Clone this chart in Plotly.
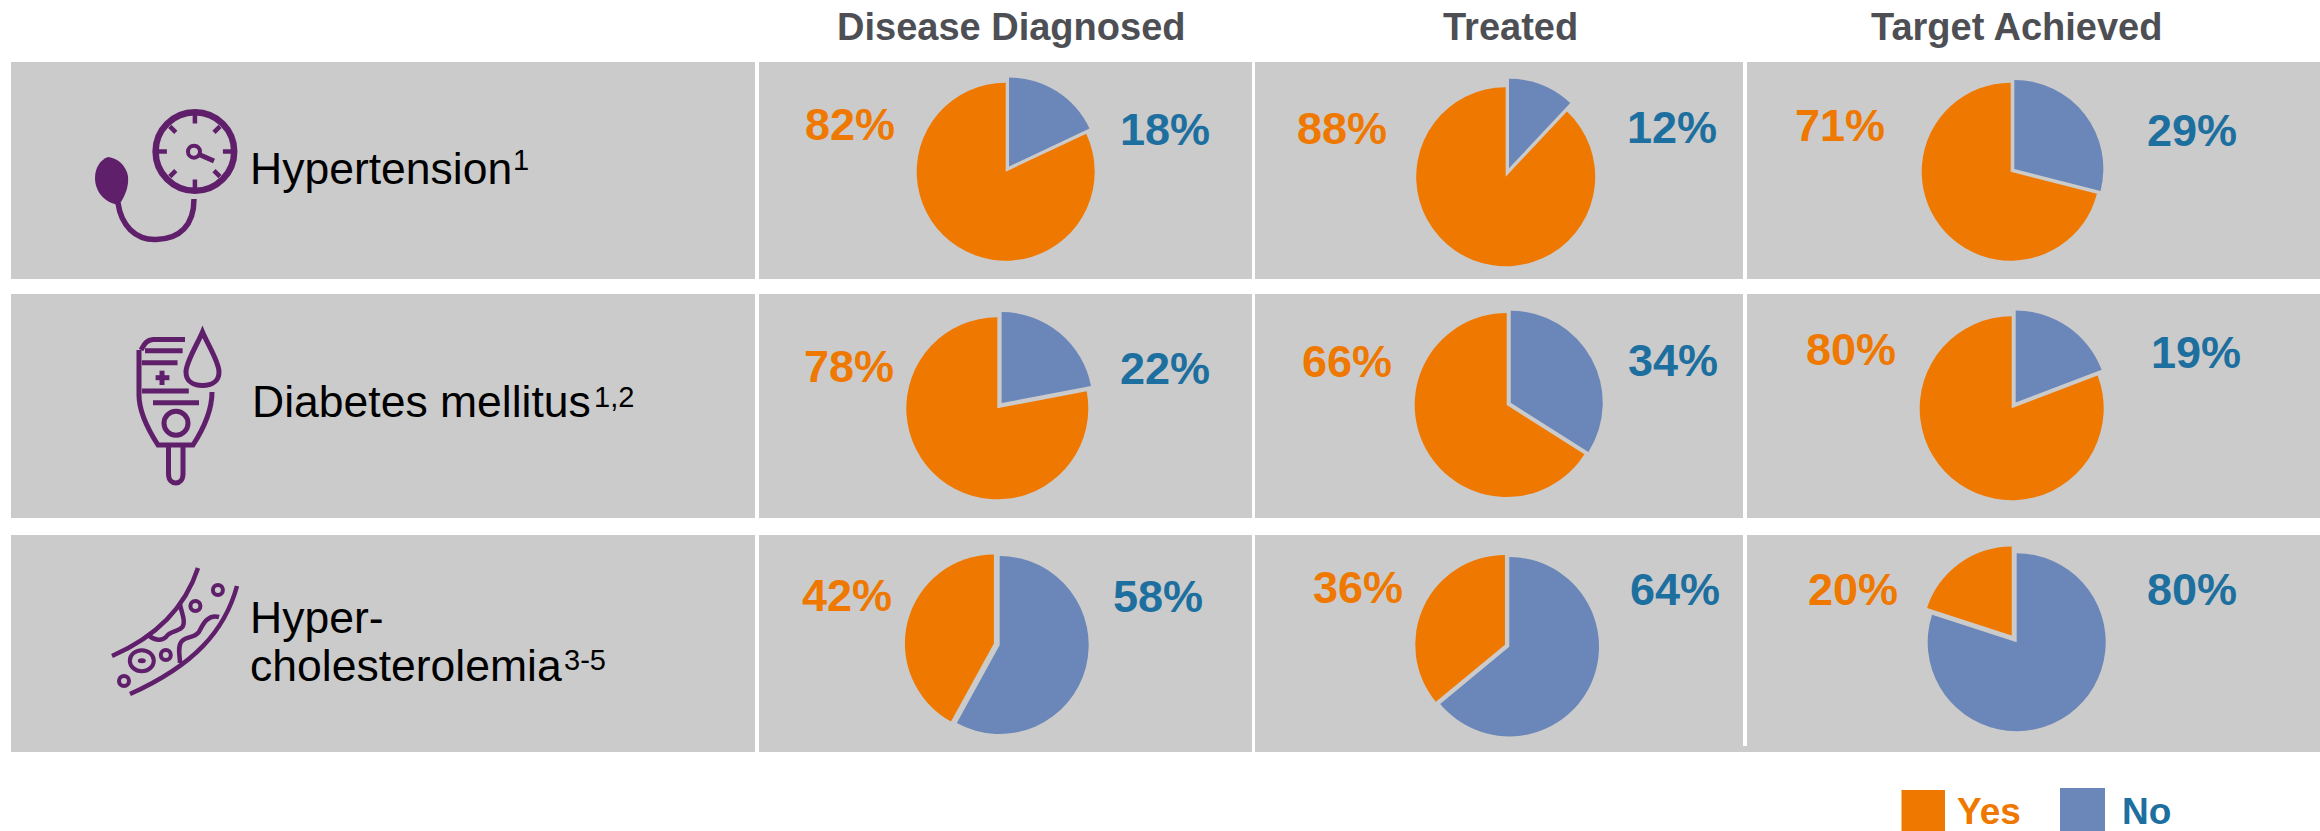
import math
import re

import plotly.graph_objects as go

WIDTH, HEIGHT = 2320, 831

# Survey results, one row per condition, one column per care stage
stages = ["Disease Diagnosed", "Treated", "Target Achieved"]
yes_pct = [[82, 88, 71], [78, 66, 80], [42, 36, 20]]
no_pct = [[18, 12, 29], [22, 34, 19], [58, 64, 80]]
legend_names = ["Yes", "No"]

# Layout in page pixels
row_bands = [(62, 279), (294, 518), (535, 752)]
column_gaps = [(755, 759, 752), (1252, 1255, 752), (1743, 1747, 746)]
stage_label_x = [1011, 1510, 2016]
pie_centres = [
    [(1005.7, 171.7), (1505.7, 176.7), (2010.7, 171.7)],
    [(997.3, 408.3), (1506.7, 405.0), (2011.7, 408.3)],
    [(999.7, 645.0), (1509.3, 646.7), (2016.7, 642.3)],
]
pie_radii = [[89, 89.5, 89], [91, 92, 92], [89, 89.7, 89]]
pull_px = [[6.2, 9, 4.6], [6.8, 4.6, 7], [6, 4.8, 8.5]]
yes_label_pos = [
    [(850, 124.7), (1342, 128), (1840, 126)],
    [(849, 366.3), (1347.5, 361.3), (1851, 349.7)],
    [(847, 595.3), (1358.3, 587.3), (1853.3, 589.5)],
]
no_label_pos = [
    [(1165, 129), (1672, 127), (2191.7, 131)],
    [(1165, 368.7), (1672.8, 360.5), (2196, 352.3)],
    [(1158, 596.3), (1674.7, 589.7), (2192, 589.5)],
]

GREY = "#CBCBCB"
ORANGE = "#EF7800"
BLUE = "#6B86B8"
BLUE_TEXT = "#1C6F9E"
HEADER = "#4D4F55"
PURPLE = "#5F1F6B"
FONT = "Liberation Sans"


def fx(x):
    return x / WIDTH


def fy(y):
    return 1 - y / HEIGHT


def paper_path(d):
    """Convert an absolute M/L/C/Q/Z path from page pixels to paper fractions."""
    out = []
    for cmd, args in re.findall(r"([MLCQZ])([^MLCQZ]*)", d):
        nums = [float(n) for n in re.findall(r"-?\d+\.?\d*", args)]
        pairs = [
            f"{fx(nums[i]):.5f},{fy(nums[i + 1]):.5f}" for i in range(0, len(nums), 2)
        ]
        out.append(cmd + " ".join(pairs))
    return " ".join(out)


shapes = []


def rect(x0, y0, x1, y1, color):
    shapes.append(dict(
        type="rect", xref="paper", yref="paper", layer="below",
        x0=fx(x0), x1=fx(x1), y0=fy(y0), y1=fy(y1),
        fillcolor=color, line_width=0,
    ))


def stroke(d, width=4.5):
    shapes.append(dict(
        type="path", xref="paper", yref="paper", layer="below",
        path=paper_path(d), line=dict(color=PURPLE, width=width),
    ))


def filled(d):
    shapes.append(dict(
        type="path", xref="paper", yref="paper", layer="below",
        path=paper_path(d), fillcolor=PURPLE, line_width=0,
    ))


def ring(cx, cy, rx, ry=None, width=4, fill=None):
    ry = rx if ry is None else ry
    shapes.append(dict(
        type="circle", xref="paper", yref="paper", layer="below",
        x0=fx(cx - rx), x1=fx(cx + rx), y0=fy(cy + ry), y1=fy(cy - ry),
        fillcolor=fill or "rgba(0,0,0,0)",
        line=dict(color=PURPLE, width=0 if fill else width),
    ))


# Table background and column separators
for top, bottom in row_bands:
    rect(11, top, WIDTH, bottom, GREY)
for left, right, end in column_gaps:
    rect(left, 62, right, end, "#FFFFFF")

# Blood pressure cuff icon
ring(194.9, 151.5, 39.3, width=6.5)
ring(194, 151.7, 6, width=4)
stroke("M198,154 L214,161", 5)
for k in range(8):
    a = math.radians(45 * k)
    r0, r1 = (27, 35.5) if k % 2 else (28, 37)
    sx, cx_ = math.sin(a), math.cos(a)
    stroke(
        f"M{194.9 + r0 * sx:.1f},{151.5 - r0 * cx_:.1f} "
        f"L{194.9 + r1 * sx:.1f},{151.5 - r1 * cx_:.1f}",
        4.5,
    )
filled("M108,157 C100,160 95,168 95,178 C95,192 105,203 119,205 "
       "C126,195 129,185 128,176 C126,166 118,158 108,157 Z")
stroke("M118,203 C121,225 135,240 156,239.5 C180,239 194,225 194,199", 5.5)

# Glucose meter icon
stroke("M139,350 L139,395 C139,410 147,428 158,445 L193,445 "
       "C204,428 212,410 212,392", 5)
stroke("M141,350 C144,345 146,340 153,339.5 L185,339.5", 5)
stroke("M145,350.7 L182.6,350.7", 5)
stroke("M141.8,362.7 L177.5,362.7", 5)
stroke("M155.6,377.7 L169.4,377.7", 5)
stroke("M162,370.7 L162,385", 5)
stroke("M142,391 L188.8,391", 5)
stroke("M153,402.7 L199,402.7", 5)
ring(176, 423.3, 12, width=5)
stroke("M168.5,446 L168.5,474 C168.5,486 183,486 183,474 L183,446", 5)
stroke("M202.5,332 C197,345 186,362 186,372 C186,381 193,385.5 202.5,385.5 "
       "C212,385.5 219,381 219,372 C219,362 208,345 202.5,332 Z", 5)

# Artery with plaque icon
stroke("M198,568 C186,605 160,635 112,656", 4.5)
stroke("M237,586 C225,630 195,665 130,694", 4.5)
stroke("M180,604 C181,612 186,620 183,626 C180,632 170,630 166,637 "
       "C162,641 155,641 148,635", 4.5)
stroke("M219,617 C208,614 203,624 200,630 C197,638 187,636 182,641 "
       "C177,646 180,656 180,663", 4.5)
ring(141.8, 660.7, 12, 10.5, width=4)
ring(141.8, 660.7, 4, 2.5, fill=PURPLE)
for cx_, cy_ in [(165.8, 655), (195.4, 606), (217.9, 590), (124, 681)]:
    ring(cx_, cy_, 5, width=4)

# Legend swatches
rect(1901.5, 790, 1945, 831, ORANGE)
rect(2060, 788, 2105, 831, BLUE)

annotations = []


def label(x, y, text, size, color, bold=False, anchor="center"):
    annotations.append(dict(
        xref="paper", yref="paper", x=fx(x), y=fy(y),
        text=f"<b>{text}</b>" if bold else text,
        showarrow=False, xanchor=anchor, yanchor="middle", borderpad=0,
        font=dict(family=FONT, size=size, color=color),
    ))


for name, x in zip(stages, stage_label_x):
    label(x, 27.5, name, 38, HEADER, bold=True)

# Condition names with their reference marks set as separate raised text
ROW_SIZE, REF_SIZE = 44.5, 29
label(249, 168.5, "Hypertension", ROW_SIZE, "#000000", anchor="left")
label(512, 159.5, "1", REF_SIZE, "#000000", anchor="left")
label(250.5, 401, "Diabetes mellitus", ROW_SIZE, "#000000", anchor="left")
label(593, 397, "1,2", REF_SIZE, "#000000", anchor="left")
label(249, 617, "Hyper-", ROW_SIZE, "#000000", anchor="left")
label(249, 665, "cholesterolemia", ROW_SIZE, "#000000", anchor="left")
label(563, 660, "3-5", REF_SIZE, "#000000", anchor="left")

label(1956, 811, legend_names[0], 37, ORANGE, bold=True, anchor="left")
label(2121, 811, legend_names[1], 37, BLUE_TEXT, bold=True, anchor="left")

fig = go.Figure()

# One pie per table cell; the smaller slice is pulled away from the centre
for r, row_yes in enumerate(yes_pct):
    for c, yes in enumerate(row_yes):
        no = no_pct[r][c]
        cx, cy = pie_centres[r][c]
        radius = pie_radii[r][c]
        half = radius + pull_px[r][c]
        share = pull_px[r][c] / radius
        fig.add_trace(go.Pie(
            labels=[legend_names[1], legend_names[0]],
            values=[no, yes],
            sort=False,
            direction="clockwise",
            rotation=0,
            pull=[share, 0] if no < yes else [0, share],
            marker=dict(colors=[BLUE, ORANGE], line=dict(width=0)),
            textinfo="none",
            showlegend=False,
            domain=dict(
                x=[fx(cx - half), fx(cx + half)],
                y=[fy(cy + half), fy(cy - half)],
            ),
        ))
        lx, ly = yes_label_pos[r][c]
        label(lx, ly, f"{yes}%", 45, ORANGE, bold=True)
        lx, ly = no_label_pos[r][c]
        label(lx, ly, f"{no}%", 45, BLUE_TEXT, bold=True)

fig.update_layout(
    width=WIDTH,
    height=HEIGHT,
    margin=dict(l=0, r=0, t=0, b=0),
    paper_bgcolor="#FFFFFF",
    plot_bgcolor="#FFFFFF",
    shapes=shapes,
    annotations=annotations,
)

fig.write_html("out.html", config=dict(displayModeBar=False))
